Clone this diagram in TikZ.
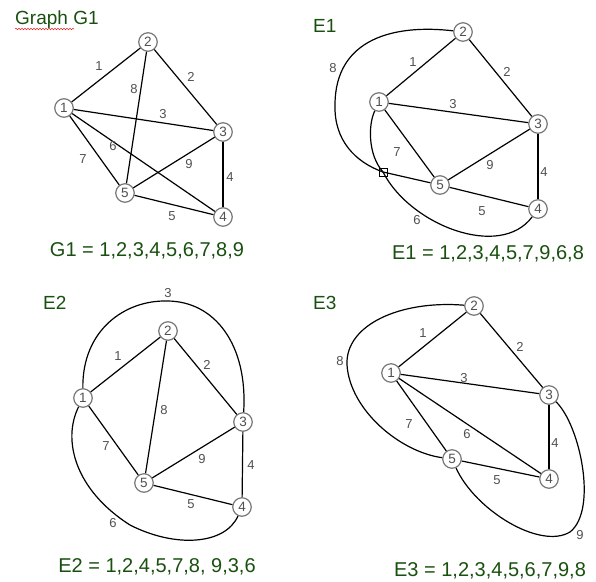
\documentclass[tikz,border=0pt]{standalone}
\usepackage{fontspec}
\setmainfont{Liberation Sans}
\usetikzlibrary{decorations.pathmorphing}
\definecolor{capgreen}{RGB}{25, 80, 15}
\definecolor{numgray}{RGB}{80, 80, 80}
\definecolor{ringgray}{RGB}{120, 120, 120}
\definecolor{spellred}{RGB}{230, 40, 40}

\begin{document}
\begin{tikzpicture}[x=1pt, y=-1pt,
    vert/.style={circle, draw=ringgray, line width=1.2pt, fill=white,
        minimum size=18.5pt, inner sep=0pt, font=\fontsize{13.5}{13.5}\selectfont, text=numgray},
    link/.style={line width=1.2pt, black},
    lbl/.style={font=\fontsize{13}{13}\selectfont, text=numgray, inner sep=0pt},
    ttl/.style={anchor=west, font=\fontsize{19}{19}\selectfont, text=capgreen, inner sep=0pt},
    seqtext/.style={font=\fontsize{20}{20}\selectfont, text=capgreen, inner sep=0pt},
    crossbox/.style={rectangle, draw, line width=0.9pt, minimum size=8pt, inner sep=0pt}
]
\useasboundingbox (0,0) rectangle (596,581);

% Graph G1
\node[ttl] (tg) at (15,20) {Graph G1};
\draw[spellred, line width=0.5pt, decorate, decoration={snake, amplitude=0.8pt, segment length=3pt}] (15,29) -- (74,29);
\node[vert] (g1) at (64,108) {1};
\node[vert] (g2) at (148,42) {2};
\node[vert] (g3) at (223,132) {3};
\node[vert] (g4) at (223,217) {4};
\node[vert] (g5) at (125,193) {5};
\draw[link] (g1) -- (g2);
\draw[link] (g2) -- (g3);
\draw[link] (g1) -- (g3);
\draw[link] (g3) -- (g4);
\draw[link] (g5) -- (g4);
\draw[link] (g1) -- (g4);
\draw[link] (g1) -- (g5);
\draw[link] (g2) -- (g5);
\draw[link] (g5) -- (g3);
\node[lbl] (lg1) at (99,66) {1};
\node[lbl] (lg2) at (191,77) {2};
\node[lbl] (lg3) at (163,114) {3};
\node[lbl] (lg4) at (230,177) {4};
\node[lbl] (lg5) at (172,216) {5};
\node[lbl] (lg6) at (113,146) {6};
\node[lbl] (lg7) at (83,159) {7};
\node[lbl] (lg8) at (134,89) {8};
\node[lbl] (lg9) at (189,164) {9};
\node[seqtext] (cg) at (147,251) {G1 = 1,2,3,4,5,6,7,8,9};

% E1
\node[ttl] (ta) at (313,26) {E1};
\node[vert] (a1) at (379,102) {1};
\node[vert] (a2) at (463,32) {2};
\node[vert] (a3) at (538,124) {3};
\node[vert] (a4) at (538,209) {4};
\node[vert] (a5) at (440,185) {5};
\node[crossbox] (ax) at (383,172) {};
\draw[link] (a1) -- (a2);
\draw[link] (a2) -- (a3);
\draw[link] (a1) -- (a3);
\draw[link] (a3) -- (a4);
\draw[link] (a5) -- (a4);
\draw[link] (a1) -- (a5);
\draw[link] (a5) -- (a3);
\draw[link] (a2) .. controls (395,24) and (335,38) .. (335,105)
    .. controls (334,140) and (355,162) .. (ax.center) -- (a5);
\draw[link] (a1) .. controls (368,125) and (368,155) .. (ax.center)
    .. controls (410,225) and (500,260) .. (a4);
\node[lbl] (la1) at (413,62) {1};
\node[lbl] (la2) at (507,72) {2};
\node[lbl] (la3) at (453,104) {3};
\node[lbl] (la4) at (544,172) {4};
\node[lbl] (la5) at (482,211) {5};
\node[lbl] (la6) at (417,220) {6};
\node[lbl] (la7) at (397,152) {7};
\node[lbl] (la8) at (333,68) {8};
\node[lbl] (la9) at (490,165) {9};
\node[seqtext] (ca) at (488,254) {E1 = 1,2,3,4,5,7,9,6,8};

% E2
\node[ttl] (tb) at (43,303) {E2};
\node[vert] (b1) at (83,398) {1};
\node[vert] (b2) at (168,331) {2};
\node[vert] (b3) at (243,422) {3};
\node[vert] (b4) at (242,507) {4};
\node[vert] (b5) at (144,483) {5};
\draw[link] (b1) -- (b2);
\draw[link] (b2) -- (b3);
\draw[link] (b2) -- (b5);
\draw[link] (b1) -- (b5);
\draw[link] (b5) -- (b3);
\draw[link] (b3) -- (b4);
\draw[link] (b5) -- (b4);
\draw[link] (b1) .. controls (82,330) and (125,300) .. (167,301)
    .. controls (215,301) and (248,345) .. (b3);
\draw[link] (b1) .. controls (62,440) and (75,490) .. (130,525)
    .. controls (175,548) and (225,545) .. (b4);
\node[lbl] (lb1) at (118,356) {1};
\node[lbl] (lb2) at (207,365) {2};
\node[lbl] (lb3) at (168,293) {3};
\node[lbl] (lb4) at (251,465) {4};
\node[lbl] (lb5) at (191,504) {5};
\node[lbl] (lb6) at (113,523) {6};
\node[lbl] (lb7) at (106,446) {7};
\node[lbl] (lb8) at (164,410) {8};
\node[lbl] (lb9) at (202,459) {9};
\node[seqtext] (cb) at (157,567) {E2 = 1,2,4,5,7,8, 9,3,6};

% E3
\node[ttl] (tc) at (313,303) {E3};
\node[vert] (c1) at (391,373) {1};
\node[vert] (c2) at (474,306) {2};
\node[vert] (c3) at (549,395) {3};
\node[vert] (c4) at (549,479) {4};
\node[vert] (c5) at (452,459) {5};
\draw[link] (c1) -- (c2);
\draw[link] (c2) -- (c3);
\draw[link] (c1) -- (c3);
\draw[link] (c3) -- (c4);
\draw[link] (c1) -- (c4);
\draw[link] (c1) -- (c5);
\draw[link] (c5) -- (c4);
\draw[link] (c2) .. controls (400,300) and (345,325) .. (347,365)
    .. controls (350,410) and (400,452) .. (c5);
\draw[link] (c3) .. controls (580,425) and (598,510) .. (570,532)
    .. controls (540,550) and (475,510) .. (c5);
\node[lbl] (lc1) at (423,333) {1};
\node[lbl] (lc2) at (520,347) {2};
\node[lbl] (lc3) at (464,378) {3};
\node[lbl] (lc4) at (555,443) {4};
\node[lbl] (lc5) at (497,480) {5};
\node[lbl] (lc6) at (467,434) {6};
\node[lbl] (lc7) at (409,424) {7};
\node[lbl] (lc8) at (340,361) {8};
\node[lbl] (lc9) at (580,535) {9};
\node[seqtext] (cc) at (490,571) {E3 = 1,2,3,4,5,6,7,9,8};

\end{tikzpicture}
\end{document}
